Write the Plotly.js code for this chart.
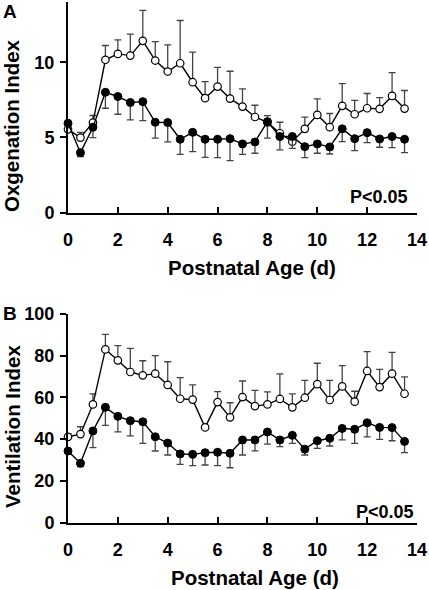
<!DOCTYPE html>
<html>
<head>
<meta charset="utf-8">
<script src="https://cdn.plot.ly/plotly-3.0.1.min.js"></script>
<style>html,body{margin:0;padding:0;background:#fff;}#chart{width:429px;height:590px;}</style>
</head>
<body>
<div id="chart"></div>
<script>
// Postnatal age (days)
const ages = [0,0.5,1,1.5,2,2.5,3,3.5,4,4.5,5,5.5,6,6.5,7,7.5,8,8.5,9,9.5,10,10.5,11,11.5,12,12.5,13,13.5];

// Panel A: Oxygenation index
const oxyOpen      = [5.54,4.99,5.99,10.16,10.55,10.44,11.42,10.11,9.38,9.93,8.67,7.61,8.38,7.58,7.05,6.36,6.0,5.28,4.72,5.57,6.5,5.68,7.1,6.54,6.94,6.9,7.76,6.92];
const oxyOpenErr   = [0.2,0.35,0.47,0.95,0.93,1.42,2.02,1.26,1.77,2.84,2.0,1.1,1.27,1.82,1.18,0.78,0.45,0.73,0.3,0.78,1.06,0.91,1.48,0.93,0.98,0.75,1.55,1.2];
const oxyFilled    = [5.94,3.99,5.68,8.0,7.72,7.32,7.38,6.01,5.99,4.88,5.34,4.88,4.88,4.92,4.57,4.7,6.05,5.06,5.06,4.39,4.57,4.37,5.57,4.92,5.32,4.9,5.06,4.88];
const oxyFilledErr = [0.3,0.27,0.69,1.06,1.18,1.15,1.26,1.06,1.29,1.0,1.28,1.2,1.22,1.46,0.69,0.75,1.1,0.89,0.78,0.73,0.62,0.47,0.85,0.8,0.66,0.55,0.74,0.89];

// Panel B: Ventilation index
const ventOpen      = [41.1,42.4,56.6,82.9,77.7,72.1,70.5,71.3,65.9,59.3,58.9,45.6,57.7,50.4,60.1,55.8,56.6,59.2,55.2,59.8,66.3,58.7,65.2,57.9,72.6,64.9,71.3,61.7];
const ventOpenErr   = [1.5,3.5,5.0,7.2,7.0,11.3,7.0,8.6,11.1,10.1,7.0,1.0,5.0,7.0,7.7,7.5,6.0,12.0,6.4,8.3,10.0,9.4,10.0,5.0,9.3,8.5,10.2,8.1];
const ventFilled    = [34.3,28.4,43.9,55.2,50.9,48.8,48.3,41.1,38.1,32.9,32.7,33.5,33.7,33.2,39.6,39.6,43.4,39.6,41.8,35.2,39.2,40.4,45.1,44.7,47.8,45.6,45.5,38.9];
const ventFilledErr = [1.0,1.6,8.0,8.6,7.4,7.3,10.3,6.8,5.7,5.0,5.4,5.9,6.4,6.9,7.2,5.2,5.8,3.2,3.8,2.8,3.6,3.7,5.5,6.7,6.7,5.7,6.3,5.4];

const xTicks = [0,2,4,6,8,10,12,14];
const yTicksA = [0,5,10];
const yTicksB = [0,20,40,60,80,100];

const zeros = ages.map(() => 0);
const errColor = '#444444';
const lineStyle = {color:'#000', width:1.4};

function openTrace(y, err, xa, ya) {
  return {x: ages, y: y, xaxis: xa, yaxis: ya, type: 'scatter', mode: 'lines+markers', cliponaxis: false,
    line: lineStyle,
    marker: {symbol: 'circle', size: 7.5, color: '#fff', line: {color: '#000', width: 1.2}},
    error_y: {type: 'data', symmetric: false, array: err, arrayminus: zeros, color: errColor, thickness: 1.3, width: 3.5},
    showlegend: false, hoverinfo: 'x+y'};
}
function filledTrace(y, err, xa, ya) {
  return {x: ages, y: y, xaxis: xa, yaxis: ya, type: 'scatter', mode: 'lines+markers', cliponaxis: false,
    line: lineStyle,
    marker: {symbol: 'circle', size: 8, color: '#000', line: {color: '#000', width: 1}},
    error_y: {type: 'data', symmetric: false, array: zeros, arrayminus: err, color: errColor, thickness: 1.3, width: 3.5},
    showlegend: false, hoverinfo: 'x+y'};
}

const data = [
  openTrace(oxyOpen, oxyOpenErr, 'x', 'y'),
  filledTrace(oxyFilled, oxyFilledErr, 'x', 'y'),
  openTrace(ventOpen, ventOpenErr, 'x2', 'y2'),
  filledTrace(ventFilled, ventFilledErr, 'x2', 'y2')
];

const F = 'Arial, "Liberation Sans", Helvetica, sans-serif';
const tickFont = {family: F, size: 18, color: '#000', weight: 'bold'};
const W = 429, H = 590, L = 68, R = 12;
const px = p => (p - L) / (W - L - R);
const py = p => 1 - p / H;

function xAxis(anchor) {
  return {domain: [0, 1], anchor: anchor, range: [0, 14], tickvals: xTicks, ticks: 'inside', ticklen: 6, tickwidth: 2,
    tickcolor: '#000', showline: true, linewidth: 2, linecolor: '#000', showgrid: false, zeroline: false,
    tickfont: tickFont, ticklabelstandoff: 10, fixedrange: true};
}
function yAxis(anchor, dom, range, ticks) {
  return {domain: dom, anchor: anchor, range: range, tickvals: ticks, ticks: 'outside', ticklen: 6, tickwidth: 2,
    tickcolor: '#000', showline: true, linewidth: 2, linecolor: '#000', showgrid: false, zeroline: false,
    tickfont: tickFont, ticklabelstandoff: 2, fixedrange: true};
}

const titleFont = {family: F, size: 20.5, color: '#000', weight: 'bold'};
const labelFont = {family: F, size: 19, color: '#000', weight: 'bold'};
const pFont = {family: F, size: 18, color: '#000', weight: 'bold'};

const layout = {
  width: W, height: H,
  margin: {l: L, r: R, t: 0, b: 0},
  paper_bgcolor: '#fff', plot_bgcolor: '#fff',
  showlegend: false,
  xaxis: xAxis('y'),
  yaxis: yAxis('x', [py(212.7), py(2)], [0, 14], yTicksA),
  xaxis2: xAxis('y2'),
  yaxis2: yAxis('x2', [py(522.7), py(313.7)], [0, 100], yTicksB),
  annotations: [
    {text: 'A', xref: 'paper', yref: 'paper', x: px(10), y: py(11), xanchor: 'center', yanchor: 'middle', showarrow: false, font: labelFont},
    {text: 'B', xref: 'paper', yref: 'paper', x: px(10), y: py(313), xanchor: 'center', yanchor: 'middle', showarrow: false, font: labelFont},
    {text: 'Oxgenation Index', xref: 'paper', yref: 'paper', x: px(12), y: py(126), textangle: -90, xanchor: 'center', yanchor: 'middle', showarrow: false, font: titleFont},
    {text: 'Ventilation Index', xref: 'paper', yref: 'paper', x: px(12), y: py(427), textangle: -90, xanchor: 'center', yanchor: 'middle', showarrow: false, font: titleFont},
    {text: 'Postnatal Age (d)', xref: 'paper', yref: 'paper', x: px(252), y: py(267), xanchor: 'center', yanchor: 'middle', showarrow: false, font: titleFont},
    {text: 'Postnatal Age (d)', xref: 'paper', yref: 'paper', x: px(255), y: py(577), xanchor: 'center', yanchor: 'middle', showarrow: false, font: titleFont},
    {text: 'P<0.05', xref: 'paper', yref: 'paper', x: px(410), y: py(197), xanchor: 'right', yanchor: 'middle', showarrow: false, font: pFont},
    {text: 'P<0.05', xref: 'paper', yref: 'paper', x: px(416), y: py(512), xanchor: 'right', yanchor: 'middle', showarrow: false, font: pFont}
  ]
};

Plotly.newPlot('chart', data, layout, {displayModeBar: false, staticPlot: true});
</script>
</body>
</html>
